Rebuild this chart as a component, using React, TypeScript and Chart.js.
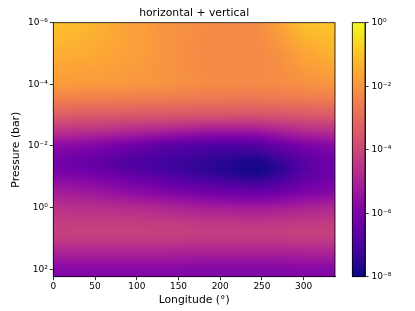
import React, { useEffect, useRef } from "react";
import { Chart, registerables } from "chart.js";

Chart.register(...registerables);

const titleText = "horizontal + vertical";
const xAxisLabel = "Longitude (°)";
const yAxisLabel = "Pressure (bar)";

// grid nodes
const longitudes = [0, 45, 90, 135, 180, 225, 245, 270, 300, 337.5];
const pressures = [
  1e-6, 1e-5, 1e-4, 3.16e-4, 1e-3, 3.16e-3, 1e-2, 3.16e-2, 6.31e-2, 1e-1,
  3.16e-1, 1, 3.16, 6.31, 10, 31.6, 100, 174,
];
// log10 of the plotted quantity; one row per pressure level, one column per longitude
const log10Values = [
  [-1.0, -1.3, -1.7, -2.05, -2.2, -2.25, -2.2, -1.7, -1.05, -0.95],
  [-1.4, -1.5, -1.75, -2.0, -2.25, -2.3, -2.25, -2.1, -1.65, -1.3],
  [-1.85, -1.9, -1.95, -2.05, -2.2, -2.25, -2.25, -2.2, -2.1, -1.95],
  [-2.5, -2.55, -2.6, -2.65, -2.7, -2.75, -2.75, -2.7, -2.65, -2.55],
  [-3.4, -3.45, -3.5, -3.55, -3.6, -3.65, -3.65, -3.6, -3.5, -3.45],
  [-4.5, -4.6, -4.8, -5.0, -5.25, -5.3, -5.25, -5.0, -4.75, -4.6],
  [-5.7, -5.9, -6.3, -6.7, -6.95, -7.0, -6.9, -6.5, -6.1, -5.8],
  [-6.2, -6.5, -6.9, -7.2, -7.4, -7.7, -7.8, -7.4, -6.7, -6.2],
  [-6.1, -6.3, -6.7, -7.1, -7.45, -7.8, -7.9, -7.55, -6.8, -6.2],
  [-5.8, -6.0, -6.35, -6.75, -7.15, -7.5, -7.65, -7.25, -6.6, -6.25],
  [-5.1, -5.3, -5.6, -5.9, -6.2, -6.4, -6.4, -6.3, -6.0, -5.8],
  [-4.6, -4.65, -4.75, -4.9, -5.1, -5.2, -5.2, -5.15, -5.0, -4.85],
  [-4.3, -4.25, -4.25, -4.3, -4.4, -4.45, -4.45, -4.45, -4.35, -4.3],
  [-4.2, -4.15, -4.15, -4.2, -4.25, -4.3, -4.3, -4.25, -4.15, -4.2],
  [-4.3, -4.3, -4.3, -4.3, -4.35, -4.35, -4.35, -4.35, -4.3, -4.3],
  [-5.05, -5.05, -5.05, -5.05, -5.1, -5.1, -5.1, -5.1, -5.05, -5.05],
  [-5.8, -5.8, -5.8, -5.8, -5.85, -5.85, -5.85, -5.85, -5.8, -5.8],
  [-5.9, -5.9, -5.9, -5.9, -5.9, -5.9, -5.9, -5.9, -5.9, -5.9],
];

const xTickValues = [0, 50, 100, 150, 200, 250, 300];
const yTickValues = [1e-6, 1e-4, 1e-2, 1, 100];
const yTickLabels = ["10⁻⁶", "10⁻⁴", "10⁻²", "10⁰", "10²"];
const colorTickValues = [1e-8, 1e-6, 1e-4, 1e-2, 1];
const colorTickLabels = ["10⁻⁸", "10⁻⁶", "10⁻⁴", "10⁻²", "10⁰"];

const lonMin = 0;
const lonMax = 337.5;
const pTop = 1e-6;
const pBottom = 174;
const colorMin = 1e-8;
const colorMax = 1;

// plasma colormap stops
const plasmaStops: [number, string][] = [
  [0, "#0d0887"], [0.1, "#41049d"], [0.1111, "#46039f"], [0.2, "#6a00a8"],
  [0.2222, "#7201a8"], [0.3, "#8f0da4"], [0.3333, "#9c179e"], [0.4, "#b12a90"],
  [0.4444, "#bd3786"], [0.5, "#cc4778"], [0.5556, "#d8576b"], [0.6, "#e16462"],
  [0.6667, "#ed7953"], [0.7, "#f2844b"], [0.7778, "#fb9f3a"], [0.8, "#fca636"],
  [0.8889, "#fdca26"], [0.9, "#fcce25"], [1, "#f0f921"],
];
const plasmaRGB = plasmaStops.map(([t, h]) => [
  t,
  parseInt(h.slice(1, 3), 16),
  parseInt(h.slice(3, 5), 16),
  parseInt(h.slice(5, 7), 16),
]);

function plasma(t: number): [number, number, number] {
  const tt = Math.max(0, Math.min(1, t));
  for (let i = 0; i < plasmaRGB.length - 1; i++) {
    const a = plasmaRGB[i];
    const b = plasmaRGB[i + 1];
    if (tt <= b[0]) {
      const f = (tt - a[0]) / (b[0] - a[0]);
      return [a[1] + (b[1] - a[1]) * f, a[2] + (b[2] - a[2]) * f, a[3] + (b[3] - a[3]) * f];
    }
  }
  const l = plasmaRGB[plasmaRGB.length - 1];
  return [l[1], l[2], l[3]];
}

function seg(arr: number[], v: number): [number, number] {
  if (v <= arr[0]) return [0, 0];
  for (let i = 0; i < arr.length - 1; i++) {
    if (v <= arr[i + 1]) return [i, (v - arr[i]) / (arr[i + 1] - arr[i])];
  }
  return [arr.length - 2, 1];
}

const logPressures = pressures.map((p) => Math.log10(p));
const lcMin = Math.log10(colorMin);
const lcMax = Math.log10(colorMax);

const FONT = "'DejaVu Sans', sans-serif";

const heatmapPlugin = {
  id: "heatmap",
  beforeDatasetsDraw(chart: any) {
    const { ctx, chartArea, scales } = chart;
    const xs = scales.x;
    const ys = scales.y;
    const w = Math.ceil(chartArea.width);
    const h = Math.ceil(chartArea.height);
    const off = document.createElement("canvas");
    off.width = w;
    off.height = h;
    const octx = off.getContext("2d")!;
    const img = octx.createImageData(w, h);
    const sx = chartArea.width / w;
    const sy = chartArea.height / h;
    const xSeg: [number, number][] = [];
    for (let i = 0; i < w; i++) {
      const lon = xs.getValueForPixel(chartArea.left + (i + 0.5) * sx);
      xSeg.push(seg(longitudes, lon));
    }
    for (let j = 0; j < h; j++) {
      const p = ys.getValueForPixel(chartArea.top + (j + 0.5) * sy);
      const [k, fy] = seg(logPressures, Math.log10(p));
      const r0 = log10Values[k];
      const r1 = log10Values[k + 1];
      for (let i = 0; i < w; i++) {
        const [m, fx] = xSeg[i];
        const a = r0[m] + (r0[m + 1] - r0[m]) * fx;
        const b = r1[m] + (r1[m + 1] - r1[m]) * fx;
        const v = a + (b - a) * fy;
        const c = plasma((v - lcMin) / (lcMax - lcMin));
        const idx = (j * w + i) * 4;
        img.data[idx] = c[0];
        img.data[idx + 1] = c[1];
        img.data[idx + 2] = c[2];
        img.data[idx + 3] = 255;
      }
    }
    octx.putImageData(img, 0, 0);
    ctx.save();
    ctx.drawImage(off, chartArea.left, chartArea.top, chartArea.width, chartArea.height);
    ctx.restore();
  },
  afterDraw(chart: any) {
    const { ctx, chartArea } = chart;
    ctx.save();
    ctx.strokeStyle = "#000";
    ctx.lineWidth = 0.8;
    ctx.strokeRect(chartArea.left, chartArea.top, chartArea.width, chartArea.height);
    ctx.restore();
  },
};

const colorbarPlugin = {
  id: "colorbarFill",
  beforeDatasetsDraw(chart: any) {
    const { ctx, chartArea, scales } = chart;
    const ys = scales.y;
    const h = Math.ceil(chartArea.height);
    const off = document.createElement("canvas");
    off.width = 1;
    off.height = h;
    const octx = off.getContext("2d")!;
    const img = octx.createImageData(1, h);
    const sy = chartArea.height / h;
    for (let j = 0; j < h; j++) {
      const v = ys.getValueForPixel(chartArea.top + (j + 0.5) * sy);
      const c = plasma((Math.log10(v) - lcMin) / (lcMax - lcMin));
      img.data[j * 4] = c[0];
      img.data[j * 4 + 1] = c[1];
      img.data[j * 4 + 2] = c[2];
      img.data[j * 4 + 3] = 255;
    }
    octx.putImageData(img, 0, 0);
    ctx.save();
    ctx.imageSmoothingEnabled = true;
    ctx.drawImage(off, chartArea.left, chartArea.top, chartArea.width, chartArea.height);
    ctx.restore();
  },
  afterDraw(chart: any) {
    const { ctx, chartArea } = chart;
    ctx.save();
    ctx.strokeStyle = "#000";
    ctx.lineWidth = 0.8;
    ctx.strokeRect(chartArea.left, chartArea.top, chartArea.width, chartArea.height);
    ctx.restore();
  },
};

const PLOT_LEFT = 53.3;
const PLOT_RIGHT = 335;
const PLOT_TOP = 22.7;
const PLOT_BOTTOM = 276.7;
const W = 415;
const H = 311;
const CB_X = 340;
const CB_W = 75;
const CB_LEFT = 352.3;
const CB_RIGHT = 365;

export default function App() {
  const mainRef = useRef<HTMLCanvasElement>(null);
  const cbRef = useRef<HTMLCanvasElement>(null);

  useEffect(() => {
    Chart.defaults.font.family = FONT;
    Chart.defaults.color = "#000";

    const tickFont = { family: FONT, size: 9 };
    const labelFont = { family: FONT, size: 10.8 };

    const main = new Chart(mainRef.current!, {
      type: "scatter",
      data: { datasets: [{ data: [] }] },
      options: {
        animation: false,
        responsive: false,
        devicePixelRatio: 1,
        layout: { padding: { left: 0, right: W - PLOT_RIGHT, top: 0, bottom: 0 } },
        plugins: {
          legend: { display: false },
          tooltip: { enabled: false },
          title: {
            display: true,
            text: titleText,
            fullSize: false,
            color: "#000",
            font: { family: FONT, size: 10.8, weight: "normal" },
            padding: { top: 6.5, bottom: PLOT_TOP - 6.5 - 10.8 * 1.2 },
          },
        },
        scales: {
          x: {
            type: "linear",
            min: lonMin,
            max: lonMax,
            afterBuildTicks: (s: any) => {
              s.ticks = xTickValues.map((v) => ({ value: v }));
            },
            afterFit: (s: any) => {
              s.height = H - PLOT_BOTTOM;
            },
            ticks: { font: tickFont, color: "#000", padding: 1, autoSkip: false, maxRotation: 0 },
            grid: { drawOnChartArea: false, drawTicks: true, tickLength: 3.5, tickColor: "#000", tickWidth: 0.8 },
            border: { display: true, color: "#000", width: 0.8 },
            title: { display: true, text: xAxisLabel, font: labelFont, color: "#000", padding: { top: 0, bottom: 4.5 } },
          },
          y: {
            type: "logarithmic",
            reverse: true,
            min: pTop,
            max: pBottom,
            afterBuildTicks: (s: any) => {
              s.ticks = yTickValues.map((v) => ({ value: v }));
            },
            afterFit: (s: any) => {
              s.width = PLOT_LEFT;
            },
            ticks: {
              font: tickFont,
              color: "#000",
              padding: 2,
              autoSkip: false,
              callback: (v: any) => {
                const i = yTickValues.findIndex((t) => Math.abs(Math.log10(t) - Math.log10(v)) < 1e-6);
                return i >= 0 ? yTickLabels[i] : "";
              },
            },
            grid: { drawOnChartArea: false, drawTicks: true, tickLength: 3.5, tickColor: "#000", tickWidth: 0.8 },
            border: { display: true, color: "#000", width: 0.8 },
            title: { display: true, text: yAxisLabel, font: labelFont, color: "#000", padding: { top: 9.5, bottom: 0 } },
          },
        },
      } as any,
      plugins: [heatmapPlugin],
    });

    const cb = new Chart(cbRef.current!, {
      type: "scatter",
      data: { datasets: [{ data: [] }] },
      options: {
        animation: false,
        responsive: false,
        devicePixelRatio: 1,
        layout: { padding: { left: CB_LEFT - CB_X, right: 0, top: PLOT_TOP, bottom: H - PLOT_BOTTOM } },
        plugins: { legend: { display: false }, tooltip: { enabled: false }, title: { display: false } },
        scales: {
          x: { display: false, min: 0, max: 1 },
          y: {
            type: "logarithmic",
            position: "right",
            min: colorMin,
            max: colorMax,
            afterBuildTicks: (s: any) => {
              s.ticks = colorTickValues.map((v) => ({ value: v }));
            },
            afterFit: (s: any) => {
              s.width = CB_X + CB_W - CB_RIGHT;
            },
            ticks: {
              font: tickFont,
              color: "#000",
              padding: 3,
              autoSkip: false,
              callback: (v: any) => {
                const i = colorTickValues.findIndex((t) => Math.abs(Math.log10(t) - Math.log10(v)) < 1e-6);
                return i >= 0 ? colorTickLabels[i] : "";
              },
            },
            grid: { drawOnChartArea: false, drawTicks: true, tickLength: 3.5, tickColor: "#000", tickWidth: 0.8 },
            border: { display: true, color: "#000", width: 0.8 },
          },
        },
      } as any,
      plugins: [colorbarPlugin],
    });

    return () => {
      main.destroy();
      cb.destroy();
    };
  }, []);

  return (
    <div style={{ position: "absolute", left: 0, top: 0, width: W, height: H, background: "#fff" }}>
      <canvas ref={mainRef} width={W} height={H} style={{ position: "absolute", left: 0, top: 0 }} />
      <canvas ref={cbRef} width={CB_W} height={H} style={{ position: "absolute", left: CB_X, top: 0 }} />
    </div>
  );
}
